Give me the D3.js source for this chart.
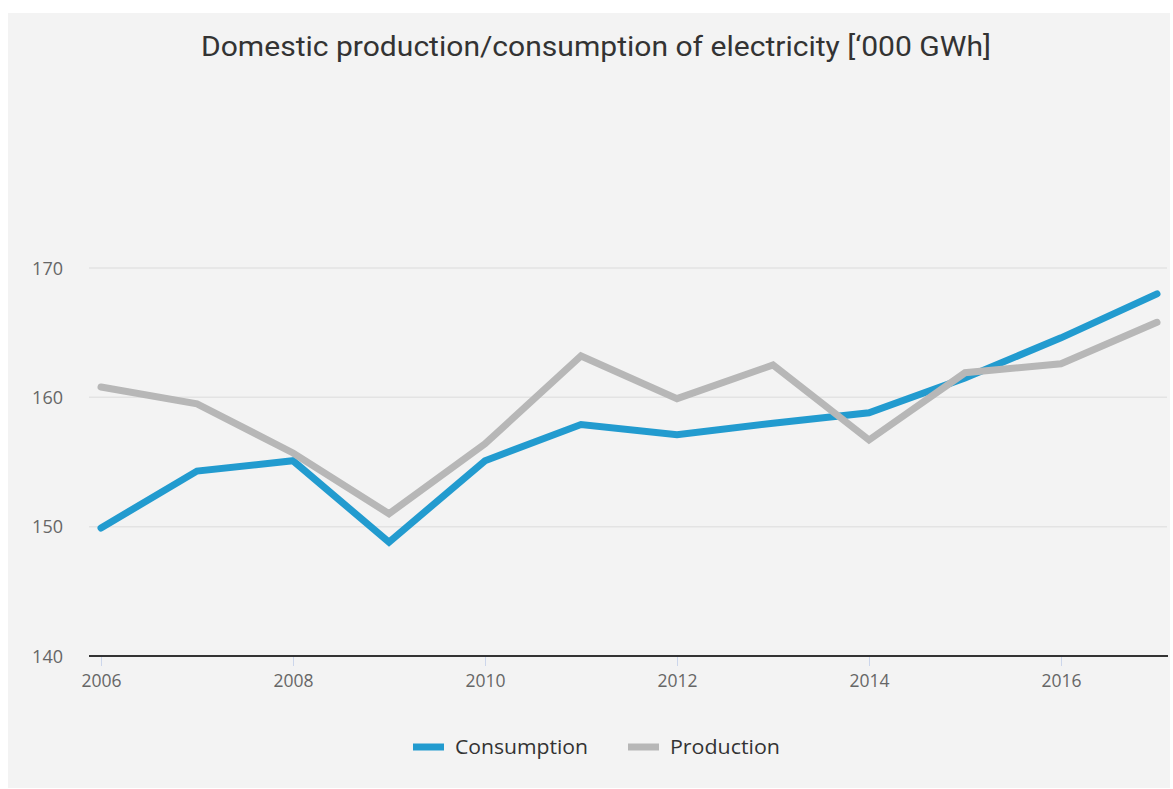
<!DOCTYPE html>
<html>
<head>
<meta charset="utf-8">
<script src="https://cdn.jsdelivr.net/npm/d3@7"></script>
<style>
  html, body { margin: 0; padding: 0; background: #ffffff; }
  svg { display: block; }
</style>
</head>
<body>
<svg id="chart" width="1173" height="789"></svg>
<script>
const years = [2006, 2007, 2008, 2009, 2010, 2011, 2012, 2013, 2014, 2015, 2016, 2017];
const consumption = [149.9, 154.3, 155.1, 148.8, 155.1, 157.9, 157.1, 158.0, 158.8, 161.5, 164.6, 168.0];
const production = [160.8, 159.5, 155.7, 151.0, 156.4, 163.2, 159.9, 162.5, 156.7, 161.9, 162.6, 165.8];
const yTicks = [140, 150, 160, 170];
const xTicks = [2006, 2008, 2010, 2012, 2014, 2016];
const seriesNames = ["Consumption", "Production"];
const seriesColors = ["#229bcf", "#b7b7b7"];
const title = "Domestic production/consumption of electricity [‘000 GWh]";

const svg = d3.select("#chart");

svg.append("rect").attr("x", 8).attr("y", 13).attr("width", 1162).attr("height", 775).attr("fill", "#f3f3f3");

const x = d3.scaleLinear().domain([2006, 2017]).range([101, 1157]);
const y = d3.scaleLinear().domain([140, 170]).range([656, 268]);

// title
svg.append("text")
  .attr("x", 596).attr("y", 56)
  .attr("text-anchor", "middle")
  .attr("font-family", "Roboto, 'Noto Sans', sans-serif")
  .attr("font-size", 28)
  .attr("fill", "#333333")
  .attr("textLength", 790)
  .attr("lengthAdjust", "spacingAndGlyphs")
  .text(title);

// grid
svg.append("g").selectAll("line").data(yTicks.filter(d => d !== 140)).join("line")
  .attr("x1", 89).attr("x2", 1167)
  .attr("y1", d => y(d)).attr("y2", d => y(d))
  .attr("stroke", "#e3e3e3").attr("stroke-width", 1.5);

// y labels
const yAxis = d3.axisLeft(y).tickValues(yTicks).tickSize(0).tickPadding(0);
const yg = svg.append("g").attr("transform", "translate(63,0)").call(yAxis);
yg.select(".domain").remove();
yg.selectAll("text")
  .attr("font-family", "'Open Sans', 'Noto Sans', sans-serif")
  .attr("font-size", 18).attr("fill", "#666666")
  .attr("dy", "0.35em");

// x axis
const xAxis = d3.axisBottom(x).tickValues(xTicks).tickFormat(d3.format("d")).tickSize(10).tickPadding(9);
const xg = svg.append("g").attr("transform", `translate(0,${y(140)})`).call(xAxis);
xg.select(".domain").remove();
xg.selectAll(".tick line").attr("stroke", "#ccd6eb").attr("stroke-width", 1);
xg.selectAll("text")
  .attr("font-family", "'Open Sans', 'Noto Sans', sans-serif")
  .attr("font-size", 17.5).attr("fill", "#666666");
svg.append("line")
  .attr("x1", 89).attr("x2", 1168)
  .attr("y1", y(140)).attr("y2", y(140))
  .attr("stroke", "#333333").attr("stroke-width", 2);

// lines (production drawn on top)
const lineGen = d3.line().x((d, i) => x(years[i])).y(d => y(d));
[consumption, production].forEach((vals, idx) => {
  svg.append("path")
    .datum(vals)
    .attr("d", lineGen)
    .attr("fill", "none")
    .attr("stroke", seriesColors[idx])
    .attr("stroke-width", 7)
    .attr("stroke-linecap", "round")
    .attr("stroke-linejoin", "miter");
});

// legend
const legX = [413, 628];
const legLen = [133, 110];
seriesNames.forEach((name, i) => {
  svg.append("line")
    .attr("x1", legX[i]).attr("x2", legX[i] + 31)
    .attr("y1", 747).attr("y2", 747)
    .attr("stroke", seriesColors[i]).attr("stroke-width", 7);
  svg.append("text")
    .attr("x", legX[i] + 42).attr("y", 754)
    .attr("font-family", "'Open Sans', 'Noto Sans', sans-serif")
    .attr("font-size", 20)
    .attr("fill", "#333333")
    .attr("textLength", legLen[i])
    .attr("lengthAdjust", "spacingAndGlyphs")
    .text(name);
});
</script>
</body>
</html>
